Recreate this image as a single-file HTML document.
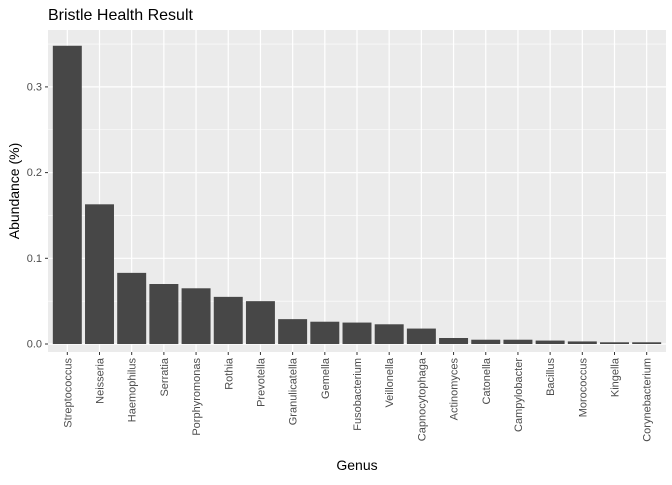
<!DOCTYPE html>
<html><head><meta charset="utf-8"><style>
body{margin:0;background:#fff;font-family:"Liberation Sans",Arial,sans-serif;}
</style></head><body>
<svg id="c" width="672" height="480" xmlns="http://www.w3.org/2000/svg">
<text x="48" y="20" font-size="16" fill="#000">Bristle Health Result</text>
<text transform="translate(19,191) rotate(-90)" text-anchor="middle" font-size="14" fill="#000">Abundance (%)</text>
<text x="357" y="470" text-anchor="middle" font-size="14" fill="#000">Genus</text>
<g id="g"></g>
</svg>
<script>
const categories=["Streptococcus","Neisseria","Haemophilus","Serratia","Porphyromonas","Rothia","Prevotella","Granulicatella","Gemella","Fusobacterium","Veillonella","Capnocytophaga","Actinomyces","Catonella","Campylobacter","Bacillus","Morococcus","Kingella","Corynebacterium"];
const values=[0.348,0.163,0.083,0.070,0.065,0.055,0.050,0.029,0.026,0.025,0.023,0.018,0.007,0.005,0.005,0.004,0.003,0.002,0.002];
const yTicks=[0,0.1,0.2,0.3];
const yTickLabels=["0.0","0.1","0.2","0.3"];
const NS="http://www.w3.org/2000/svg";
const g=document.getElementById('g');
const L=48,R=666,T=30,B=352;
const y0=344,yPer=857;
const y=v=>y0-v*yPer;
const step=(R-L)/(categories.length+0.2);
const x=i=>L+step*(i+0.6);
function mk(t,a,p){const e=document.createElementNS(NS,t);for(const k in a)e.setAttribute(k,a[k]);(p||g).appendChild(e);return e;}
const bg=mk('rect',{x:L,y:T,width:R-L,height:B-T,fill:'#ebebeb'});


for(let i=0;i<yTicks.length;i++){const v=yTicks[i]+0.05;if(y(v)>T){mk('line',{x1:L,x2:R,y1:y(v),y2:y(v),stroke:'#fff','stroke-width':0.6});}}
yTicks.forEach((v,i)=>{
 mk('line',{x1:L,x2:R,y1:y(v),y2:y(v),stroke:'#fff','stroke-width':1.2});
 mk('line',{x1:L-3,x2:L,y1:y(v),y2:y(v),stroke:'#333','stroke-width':1});
 const t=mk('text',{x:L-6,y:y(v)+3.5,'text-anchor':'end','font-size':11,fill:'#4d4d4d'});
 t.textContent=yTickLabels[i];
 
 
});
categories.forEach((c,i)=>{
 mk('line',{x1:x(i),x2:x(i),y1:T,y2:B,stroke:'#fff','stroke-width':1.2});
});
categories.forEach((c,i)=>{
 const bw=step*0.9;
 const r=mk('rect',{x:x(i)-bw/2,y:y(values[i]),width:bw,height:y0-y(values[i]),fill:'#474747'});
 
 
 mk('line',{x1:x(i),x2:x(i),y1:B,y2:B+3,stroke:'#333','stroke-width':1});
 const t=mk('text',{transform:`translate(${x(i)+4},${B+6}) rotate(-90)`,'text-anchor':'end','font-size':11,fill:'#4d4d4d'});
 t.textContent=c;
 
 
});
</script>
</body></html>
